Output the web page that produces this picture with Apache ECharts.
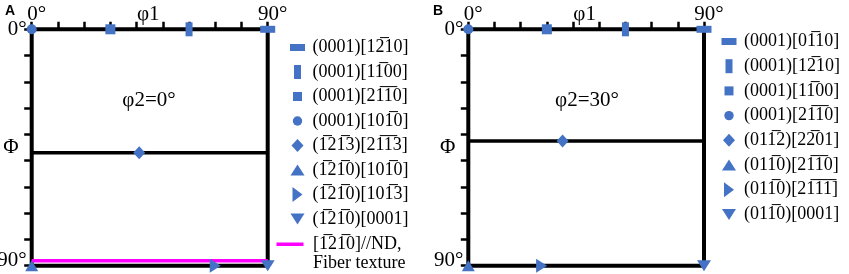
<!DOCTYPE html>
<html><head><meta charset="utf-8">
<script src="https://cdn.jsdelivr.net/npm/echarts@6/dist/echarts.min.js"></script>
<style>html,body{margin:0;padding:0;background:#fff}#c{width:849px;height:274px}</style>
</head><body><div id="c"></div><script>
// ~d puts an overbar on digit d
const bar = s => s.replace(/~(\d)/g, '$1\u0305');

const axisMin = 0, axisMax = 90, axisStep = 10;
const edgeTickLabels = { 0: '0°', 90: '90°' };

const shapeKeys = ['hrect', 'vrect', 'square', 'circle', 'diamond', 'triUp', 'triRight', 'triDown'];

const labelsA = ['(0001)[1~210]', '(0001)[1~100]', '(0001)[2~1~10]', '(0001)[10~10]',
                 '(~12~13)[2~1~13]', '(~12~10)[10~10]', '(~12~10)[10~13]', '(~12~10)[0001]'].map(bar);
const pointsA = [[90, 0], [60, 0], [30, 0], [0, 0], [41, 47], [0, 90], [70, 90], [90, 90]];
const lineA = 47;
const fiberLabel = bar('[~12~10]//ND,\nFiber texture');
const fiberPhi = 88.1;

const labelsB = ['(0001)[0~110]', '(0001)[1~210]', '(0001)[1~100]', '(0001)[2~1~10]',
                 '(01~12)[2~201]', '(01~10)[2~1~10]', '(01~10)[2~1~1~1]', '(01~10)[0001]'].map(bar);
const pointsB = [[90, 0], [60, 0], [30, 0], [0, 0], [36, 42.5], [0, 90], [28, 90], [90, 90]];
const lineB = 42.5;

const BLUE = '#4472C4', MAGENTA = '#FF00FF';
const SERIF = 'Liberation Serif';

const symbolDefs = {
  hrect:   { symbol: 'rect', size: [15, 7] },
  vrect:   { symbol: 'rect', size: [7, 14] },
  square:  { symbol: 'rect', size: [10, 10] },
  circle:  { symbol: 'circle', size: [10, 10] },
  diamond: { symbol: 'diamond', size: [12, 13] },
  triUp:   { symbol: 'triangle', size: [13, 11] },
  triRight:{ symbol: 'path://M0,0L10,7L0,14Z', size: [11, 14] },
  triDown: { symbol: 'path://M0,0L14,0L7,11Z', size: [14, 11] }
};
const F = 'M0,0M20,16';
const legendIcons = {
  hrect:   'path://' + F + 'M2.5,4.5h15v7h-15z',
  vrect:   'path://' + F + 'M6.5,1h7v14h-7z',
  square:  'path://' + F + 'M5.5,3.5h9v9h-9z',
  circle:  'path://' + F + 'M5.3,8a4.7,4.7 0 1,0 9.4,0a4.7,4.7 0 1,0 -9.4,0z',
  diamond: 'path://' + F + 'M10,1.5L16,8L10,14.5L4,8z',
  triUp:   'path://' + F + 'M3,13.5L10,2.5L17,13.5z',
  triRight:'path://' + F + 'M5,0.5L15,8L5,15.5z',
  triDown: 'path://' + F + 'M3,2.5L17,2.5L10,13.5z'
};

const grids = [
  { left: 31.7, top: 29.3, width: 236, height: 236.4 },
  { left: 468.3, top: 29.3, width: 235.7, height: 236.4 }
].map(g => Object.assign(g, { show: true, borderWidth: 4, borderColor: '#000', backgroundColor: 'transparent',
  z: 0, containLabel: false, outerBoundsMode: 'none' }));

const labelFont = { fontFamily: SERIF, fontSize: 21, color: '#000' };
function xAxisFor(i) {
  return {
    gridIndex: i, type: 'value', min: axisMin, max: axisMax, interval: axisStep, position: 'top',
    axisLine: { show: false }, splitLine: { show: false },
    axisTick: { show: true, inside: false, length: 7.5, lineStyle: { color: '#000', width: 2.5 } },
    axisLabel: Object.assign({ margin: 4, padding: [0, 0, 0, 10], formatter: v => edgeTickLabels[v] || '' }, labelFont),
    name: 'φ1', nameLocation: 'middle', nameGap: 4, nameMoveOverlap: false,
    nameTextStyle: Object.assign({ padding: [0, 3, 0, 0] }, labelFont)
  };
}
function yAxisFor(i) {
  return {
    gridIndex: i, type: 'value', min: axisMin, max: axisMax, interval: axisStep, inverse: true, position: 'left',
    axisLine: { show: false }, splitLine: { show: false },
    axisTick: { show: true, inside: false, length: 7.5, lineStyle: { color: '#000', width: 2.5 } },
    axisLabel: Object.assign({
      margin: 5,
      formatter: v => v === 90 ? '{b|90°}' : (v === 0 ? '{a|0°}' : ''),
      rich: { a: Object.assign({}, labelFont), b: Object.assign({ padding: [0, 0, 10, 0] }, labelFont) }
    }, labelFont),
    name: 'Φ', nameLocation: 'middle', nameGap: 13, nameRotate: 0, nameMoveOverlap: false, nameTextStyle: labelFont
  };
}

const series = [];
function addPanel(i, labels, points, phiLine) {
  series.push({
    type: 'line', xAxisIndex: i, yAxisIndex: i, data: [[axisMin, phiLine], [axisMax, phiLine]],
    symbol: 'none', silent: true, z: 3, lineStyle: { color: '#000', width: 3.5 }
  });
  labels.forEach((name, k) => {
    const d = symbolDefs[shapeKeys[k]];
    series.push({
      type: 'scatter', name, xAxisIndex: i, yAxisIndex: i, data: [points[k]],
      symbol: d.symbol, symbolSize: d.size, symbolKeepAspect: false, silent: true, z: 5,
      itemStyle: { color: BLUE, opacity: 1 }
    });
  });
}
addPanel(0, labelsA, pointsA, lineA);
addPanel(1, labelsB, pointsB, lineB);
series.push({
  type: 'line', name: fiberLabel, xAxisIndex: 0, yAxisIndex: 0, data: [[axisMin, fiberPhi], [axisMax, fiberPhi]],
  symbol: 'none', silent: true, z: 4, lineStyle: { color: MAGENTA, width: 3.5 }, itemStyle: { color: MAGENTA }
});

const legendText = { fontFamily: SERIF, fontSize: 18, color: '#000', lineHeight: 16 };
const legends = [
  {
    orient: 'vertical', left: 287.5, top: 38.5, padding: 0, itemGap: 6.5, itemWidth: 20, itemHeight: 16,
    selectedMode: false, textStyle: legendText, symbolKeepAspect: true,
    data: labelsA.map((n, k) => ({ name: n, icon: legendIcons[shapeKeys[k]], itemStyle: { color: BLUE } }))
  },
  {
    orient: 'vertical', left: 719, top: 32.5, padding: 0, itemGap: 6.7, itemWidth: 20, itemHeight: 16,
    selectedMode: false, textStyle: legendText, symbolKeepAspect: true,
    data: labelsB.map((n, k) => ({ name: n, icon: legendIcons[shapeKeys[k]], itemStyle: { color: BLUE } }))
  },
  {
    orient: 'vertical', left: 276.5, top: 234.25, padding: 0, itemWidth: 31.5, itemHeight: 39,
    selectedMode: false, symbolKeepAspect: true,
    textStyle: { fontFamily: SERIF, fontSize: 18, color: '#000', lineHeight: 19.5 },
    data: [{ name: fiberLabel, icon: 'path://M0,0M31.5,39M0,8.25h27v3.5h-27z', itemStyle: { color: MAGENTA } }]
  }
];

const chart = echarts.init(document.getElementById('c'), null, { renderer: 'canvas' });
chart.setOption({
  animation: false,
  backgroundColor: '#fff',
  grid: grids,
  xAxis: [xAxisFor(0), xAxisFor(1)],
  yAxis: [yAxisFor(0), yAxisFor(1)],
  legend: legends,
  series,
  graphic: [
    { type: 'text', left: 5, top: 4, style: { text: 'A', font: 'bold 14px Liberation Sans', fill: '#000' } },
    { type: 'text', left: 433, top: 4, style: { text: 'B', font: 'bold 14px Liberation Sans', fill: '#000' } },
    { type: 'text', x: 149, y: 100, style: { text: 'φ2=0°', font: '21px Liberation Serif', fill: '#000', align: 'center', verticalAlign: 'middle' } },
    { type: 'text', x: 587, y: 100, style: { text: 'φ2=30°', font: '21px Liberation Serif', fill: '#000', align: 'center', verticalAlign: 'middle' } }
  ]
});
</script></body></html>
